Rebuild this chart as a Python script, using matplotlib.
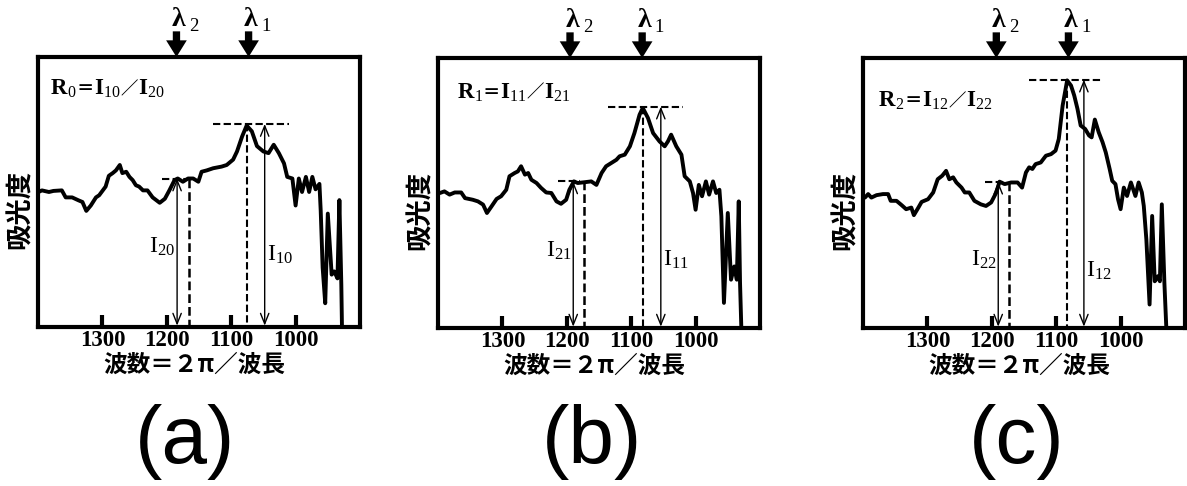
import matplotlib
matplotlib.use('Agg')
import matplotlib.pyplot as plt
from matplotlib.offsetbox import TextArea, HPacker, AnnotationBbox

plt.rcParams['mathtext.fontset'] = 'custom'
plt.rcParams['mathtext.rm'] = 'Liberation Serif'
plt.rcParams['mathtext.bf'] = 'Liberation Serif:bold'
plt.rcParams['mathtext.it'] = 'Liberation Serif:italic'

SERIF = ['Liberation Serif', 'DejaVu Serif']
CJK = ['Noto Sans CJK JP', 'DejaVu Sans']
SANS = ['Liberation Sans', 'DejaVu Sans']

# ---------------- data ----------------
wavenumber_a = [1399, 1394, 1383, 1376, 1363, 1357, 1347, 1337, 1331, 1325, 1318, 1310, 1305,
                1295, 1290, 1284, 1279, 1273, 1269, 1263, 1258, 1253, 1248, 1243, 1237, 1230,
                1222, 1211, 1203, 1196, 1188, 1183, 1175, 1167, 1159, 1151, 1146, 1138, 1128,
                1115, 1107, 1097, 1091, 1083, 1076, 1068, 1060, 1050, 1042, 1034, 1026, 1018,
                1013, 1005, 1000, 995, 990, 984, 979, 974, 969, 963, 961, 958, 954, 950, 944,
                940, 935, 932, 929, 928]
absorbance_a = [50, 50.6, 50, 50.4, 50.6, 48, 48, 46.9, 46.3, 43, 45, 48, 48.8,
                52, 56, 57, 58, 60, 57, 57.5, 55.6, 54.4, 52.5, 52, 50.6, 50.6,
                48, 46, 47.5, 50.6, 54.4, 55, 53.8, 55, 55, 53.8, 57.5, 58, 58.8,
                59.4, 60, 62, 65, 70.6, 74.6, 72.5, 67, 65, 64.4, 67.5, 64.4, 60.6,
                55.6, 55, 45, 55, 50, 55.6, 50, 55.6, 51, 53, 43, 22, 8.8, 42, 19.4,
                20.6, 18, 47, 15.6, 0]

wavenumber_b = [1397, 1390, 1382, 1374, 1364, 1358, 1346, 1338, 1330, 1324, 1317, 1309, 1302,
                1294, 1289, 1281, 1276, 1271, 1265, 1260, 1255, 1247, 1240, 1232, 1224, 1216,
                1209, 1201, 1196, 1189, 1183, 1172, 1162, 1154, 1146, 1139, 1131, 1123, 1118,
                1110, 1102, 1095, 1087, 1082, 1074, 1066, 1056, 1048, 1043, 1038, 1030, 1022,
                1017, 1009, 1004, 1000, 995, 990, 984, 979, 973, 968, 963, 960, 956, 950,
                945, 940, 936, 933, 931, 929]
absorbance_b = [50, 50.6, 49.4, 50.2, 50.2, 48.1, 47.5, 46.9, 45.7, 42.6, 45, 47.8, 48.8,
                51.2, 56.2, 57.4, 58, 59.9, 56.8, 57.4, 54.9, 53.7, 51.9, 50.2, 50, 46.9,
                46, 47.5, 51.2, 54.3, 53.7, 54, 54.3, 53, 57.4, 59.9, 61.1, 62.3, 63.6,
                64.2, 67.3, 72.2, 79, 81.5, 77.8, 72.2, 69.1, 67.3, 69.1, 71.6, 67.3, 64.2,
                56.2, 54.3, 50, 43.8, 53, 48.8, 54.3, 49.4, 54.3, 50, 51.2, 41.4, 9.3, 42.6,
                17.9, 22.8, 17.9, 46.9, 16.7, 0]

wavenumber_c = [1397, 1392, 1387, 1379, 1369, 1361, 1357, 1348, 1340, 1333, 1325, 1321, 1314,
                1309, 1299, 1291, 1284, 1277, 1271, 1266, 1260, 1255, 1247, 1242, 1235, 1227,
                1217, 1209, 1201, 1193, 1188, 1180, 1170, 1160, 1153, 1147, 1142, 1137, 1132,
                1124, 1116, 1108, 1101, 1096, 1090, 1083, 1077, 1072, 1067, 1062, 1055, 1049,
                1045, 1040, 1034, 1028, 1023, 1017, 1013, 1008, 1004, 1000, 995, 990, 984,
                977, 972, 967, 964, 960, 955, 951, 947, 942, 939, 936, 932, 929]
absorbance_c = [48.3, 49.6, 48.3, 49.2, 49.6, 49.6, 47.1, 47.1, 45.5, 44, 44.6, 41.8, 44.6,
                46.7, 47.7, 50.2, 55.1, 56.4, 58.2, 55.1, 55.8, 53.9, 52, 50.2, 50.2, 47.1,
                45.8, 45.2, 46.5, 50.2, 54.2, 53.3, 53.9, 53.9, 52, 57.6, 59.5, 58.9, 60.7,
                61.3, 63.8, 64.4, 65.7, 70, 82.4, 91.7, 89.8, 86.1, 81.2, 75, 73.7, 71.3,
                70.6, 77.2, 72.5, 68.8, 65, 58.9, 54.5, 53.3, 47.7, 44, 52, 48.9, 53.9,
                48.9, 53.9, 50.2, 45.2, 32.8, 8.7, 41.5, 17.3, 19.2, 17.3, 45.8, 16.7, 0]

tick_values = [1300, 1200, 1100, 1000]
tick_labels = ['1300', '1200', '1100', '1000']

panel_names = ['a', 'b', 'c']
ratio_index = ['0', '1', '2']
# marker wavenumbers: lambda2 arrow, lambda1 arrow
lambda2_pos = [1185, 1195, 1193]
lambda1_pos = [1073, 1083, 1081]
# dashed vertical lines (lambda2, lambda1)
dash2_pos = [1166, 1174, 1173]
dash1_pos = [1075, 1081, 1082.5]
# intensity arrows
arrow2_pos = [1184, 1190, 1190]
arrow1_pos = [1048, 1054, 1057]
# peak levels
level2 = [55, 54.3, 54.2]
level1 = [75.2, 82, 92]
# horizontal dashed spans
hdash2 = [(1208, 1170), (1214, 1180), (1211, 1178)]
hdash1 = [(1128, 1010), (1136, 1020), (1142, 1028)]

wavenumbers = [wavenumber_a, wavenumber_b, wavenumber_c]
absorbances = [absorbance_a, absorbance_b, absorbance_c]

# ---------------- layout ----------------
W, H = 1187, 486
fig = plt.figure(figsize=(W / 100, H / 100), dpi=100)
rects = [(38, 327), (438, 328), (863, 328)]
ax_w, ax_h = 322, 270
label_v2 = [30, 29, 25.5]
label_v1 = [27, 25.5, 21.5]
rlabel_pos = [(0.04, 0.885), (0.06, 0.875), (0.05, 0.845)]
panel_label_x = [185, 592, 1017]

for i in range(3):
    x0, yb = rects[i]
    ax = fig.add_axes([x0 / W, (H - yb) / H, ax_w / W, ax_h / H])
    ax.plot(wavenumbers[i], absorbances[i], color='black', lw=2.8,
            solid_joinstyle='round', solid_capstyle='round', clip_on=False)
    ax.set_xlim(1400, 900)
    ax.set_ylim(0, 100)
    for s in ax.spines.values():
        s.set_linewidth(3)
    ax.set_xticks(tick_values)
    ax.set_xticklabels(tick_labels, fontfamily=SERIF, fontweight='bold', fontsize=16.5)
    ax.tick_params(axis='x', direction='in', length=9, width=3, pad=2.5, top=False)
    ax.set_yticks([])
    ax.set_xlabel('波数＝２π／波長', fontfamily=CJK, fontweight='bold', fontsize=17)
    ax.xaxis.set_label_coords(0.485, -0.095)
    ax.set_ylabel('吸光度', fontfamily=CJK, fontweight='bold', fontsize=19)
    ax.yaxis.set_label_coords(-0.012, 0.435)

    dash = (0, (3.5, 1.6))
    # horizontal dashed
    ax.plot(hdash1[i], [level1[i]] * 2, color='k', lw=1.5, ls=dash)
    ax.plot(hdash2[i], [level2[i]] * 2, color='k', lw=1.5, ls=dash)
    # vertical dashed
    ax.plot([dash1_pos[i]] * 2, [level1[i], 0], color='k', lw=1.5, ls=dash)
    ax.plot([dash2_pos[i]] * 2, [level2[i], 0], color='k', lw=1.8, ls=dash)

    # intensity arrows
    for xp, lv in ((arrow2_pos[i], level2[i]), (arrow1_pos[i], level1[i])):
        ax.annotate('', xy=(xp, 0.5), xytext=(xp, lv),
                    arrowprops=dict(arrowstyle='<->,head_length=0.5,head_width=0.2',
                                    lw=1.0, color='k', shrinkA=0, shrinkB=0,
                                    mutation_scale=15))
    idx = ratio_index[i]
    ax.text(arrow2_pos[i] + 3, label_v2[i], r'$\mathrm{I}_{\mathrm{2' + idx + '}}$',
            ha='right', va='center', fontsize=17)
    ax.text(arrow1_pos[i] - 4, label_v1[i], r'$\mathrm{I}_{\mathrm{1' + idx + '}}$',
            ha='left', va='center', fontsize=17)

    # top lambda arrows
    tr = ax.get_xaxis_transform()
    for xp, num in ((lambda2_pos[i], '2'), (lambda1_pos[i], '1')):
        ax.annotate('', xy=(xp, 1.0), xycoords=tr, xytext=(xp, 1.095), textcoords=tr,
                    annotation_clip=False,
                    arrowprops=dict(arrowstyle='simple,head_length=0.5,head_width=0.62,tail_width=0.22',
                                    fc='k', ec='k', lw=0, shrinkA=0, shrinkB=0,
                                    mutation_scale=24))
        ax.annotate('λ', xy=(xp, 1.138), xycoords=tr, xytext=(1.5, 0),
                    textcoords='offset points', ha='center', va='center',
                    fontfamily=SERIF, fontweight='bold', fontsize=20,
                    annotation_clip=False)
        ax.annotate(num, xy=(xp, 1.112), xycoords=tr, xytext=(12.5, 0),
                    textcoords='offset points', ha='center', va='center',
                    fontfamily=SERIF, fontsize=13.5, annotation_clip=False)

    # ratio label
    bold = dict(fontfamily=SERIF, fontweight='bold', fontsize=16.5)
    sym = dict(fontfamily=CJK, fontweight='bold', fontsize=12.5)
    sub = dict(fontsize=16.5)
    parts = [TextArea('R', textprops=bold),
             TextArea(r'$_{\mathrm{' + idx + '}}$', textprops=sub),
             TextArea('＝', textprops=sym),
             TextArea('I', textprops=bold),
             TextArea(r'$_{\mathrm{1' + idx + '}}$', textprops=sub),
             TextArea('／', textprops=sym),
             TextArea('I', textprops=bold),
             TextArea(r'$_{\mathrm{2' + idx + '}}$', textprops=sub)]
    box = HPacker(children=parts, align='baseline', pad=0, sep=0)
    ab = AnnotationBbox(box, rlabel_pos[i], xycoords='axes fraction',
                        box_alignment=(0, 0.5), frameon=False, pad=0)
    ax.add_artist(ab)

    fig.text(panel_label_x[i] / W, 1 - 463 / H, '(' + panel_names[i] + ')',
             fontfamily=SANS, fontsize=59, ha='center', va='baseline')

fig.savefig('out.png', dpi=100)
